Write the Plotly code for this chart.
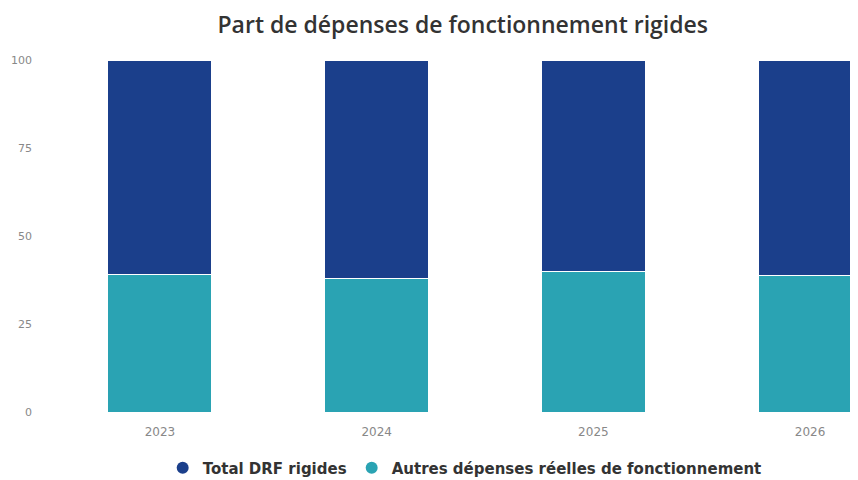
import plotly.graph_objects as go

years = ["2023", "2024", "2025", "2026"]
autres = [39.0, 37.9, 39.9, 38.9]
drf_rigides = [61.0, 62.1, 60.1, 61.1]
y_ticks = [0, 25, 50, 75, 100]

dark = "#1b3f8b"
teal = "#2aa3b3"

fig = go.Figure()
fig.add_trace(go.Bar(x=years, y=autres, name="Autres dépenses réelles de fonctionnement",
                     marker=dict(color=teal, line=dict(color="white", width=1)),
                     width=0.48, showlegend=False))
fig.add_trace(go.Bar(x=years, y=drf_rigides, name="Total DRF rigides",
                     marker=dict(color=dark, line=dict(color="white", width=1)),
                     width=0.48, showlegend=False))
# legend entries with round symbols
fig.add_trace(go.Scatter(x=[None], y=[None], mode="markers", name="Total DRF rigides",
                         marker=dict(color=dark, size=12, symbol="circle")))
fig.add_trace(go.Scatter(x=[None], y=[None], mode="markers",
                         name="Autres dépenses réelles de fonctionnement",
                         marker=dict(color=teal, size=12, symbol="circle")))

fig.update_layout(
    width=850, height=472,
    barmode="stack",
    plot_bgcolor="white", paper_bgcolor="white",
    margin=dict(l=44, r=0, t=52, b=68, autoexpand=False),
    font=dict(family="DejaVu Sans", color="#888888"),
    title=dict(text="Part de dépenses de fonctionnement rigides",
               x=0.535, xanchor="center", y=0.964, yanchor="middle",
               font=dict(family="Open Sans", size=23, color="#333333", weight=600)),
    legend=dict(orientation="h", x=0.512, xanchor="center", y=-0.159, yanchor="middle",
                font=dict(family="DejaVu Sans", size=15, color="#333333", weight="bold"),
                itemsizing="constant", traceorder="normal"),
    xaxis=dict(type="category", range=[-0.498, 3.221], showgrid=False, showline=False,
               zeroline=False, automargin=False, ticklabelstandoff=11,
               tickfont=dict(family="DejaVu Sans", size=12, color="#888888")),
    yaxis=dict(range=[0, 100], tickvals=y_ticks, showgrid=False, zeroline=False,
               showline=False, ticklabelstandoff=19, automargin=False,
               tickfont=dict(family="DejaVu Sans", size=11, color="#888888")),
)

fig.write_html("out.html")
